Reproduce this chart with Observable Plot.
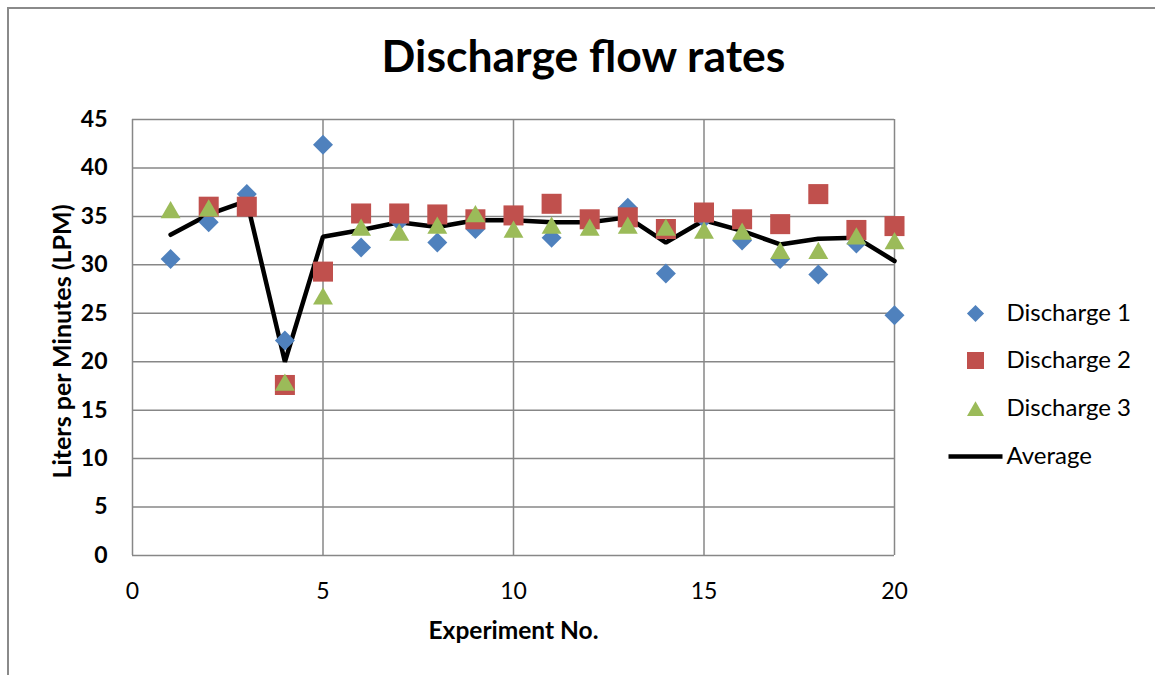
<!DOCTYPE html>
<html>
<head>
<meta charset="utf-8">
<script src="https://cdn.jsdelivr.net/npm/d3@7"></script>
<script src="https://cdn.jsdelivr.net/npm/@observablehq/plot@0.6"></script>
<style>
  body { margin: 0; background: #fff; }
  #wrap { position: relative; width: 1155px; height: 675px; overflow: hidden; background: #fff; }
  #border { position: absolute; left: 7px; top: 7px; width: 1200px; height: 800px; border: 2px solid #8a8a8a; box-sizing: border-box; }
  #chart { position: absolute; left: 0; top: 0; }
</style>
</head>
<body>
<div id="wrap"><div id="border"></div><div id="chart"></div></div>
<script>
const titleText = "Discharge flow rates";
const xLabel = "Experiment No.";
const yLabel = "Liters per Minutes (LPM)";
const seriesNames = ["Discharge 1", "Discharge 2", "Discharge 3", "Average"];
const seriesColors = ["#4F81BD", "#C0504D", "#9BBB59", "#000000"];
const xTicks = [0, 5, 10, 15, 20];
const yTicks = [0, 5, 10, 15, 20, 25, 30, 35, 40, 45];

const experiments = [1, 2, 3, 4, 5, 6, 7, 8, 9, 10, 11, 12, 13, 14, 15, 16, 17, 18, 19, 20];
const discharge1 = [30.6, 34.4, 37.3, 22.2, 42.4, 31.8, 34.5, 32.3, 33.7, 35.0, 32.8, 34.6, 35.9, 29.1, 34.8, 32.5, 30.6, 29.0, 32.2, 24.8];
const discharge2 = [null, 36.0, 36.0, 17.6, 29.3, 35.3, 35.3, 35.2, 34.7, 35.1, 36.3, 34.7, 34.9, 33.7, 35.4, 34.7, 34.2, 37.3, 33.6, 34.0];
const discharge3 = [35.7, 35.9, null, 17.9, 26.8, 33.9, 33.4, 34.1, 35.3, 33.7, 34.1, 33.9, 34.1, 33.9, 33.6, 33.5, 31.5, 31.5, 33.0, 32.5];
const average    = [33.1, 35.2, 36.6, 20.0, 32.9, 33.6, 34.4, 33.9, 34.6, 34.6, 34.4, 34.4, 34.9, 32.3, 34.6, 33.5, 32.1, 32.7, 32.8, 30.4];

const rows = experiments.map((x, i) => ({
  x, d1: discharge1[i], d2: discharge2[i], d3: discharge3[i], avg: average[i]
}));

const lineSymbol = {
  draw(context) { context.moveTo(-27, 0); context.lineTo(27, 0); }
};

const gridStyle = { stroke: "#878787", strokeOpacity: 1, strokeWidth: 1.5 };
const legendDx = 81, legendTextDx = 112;
const legendDy = [-24, 23, 71, 119];

const chart = Plot.plot({
  width: 1155,
  height: 675,
  marginLeft: 132,
  marginRight: 261,
  marginTop: 119,
  marginBottom: 120,
  style: { fontFamily: "Lato, sans-serif", background: "transparent", overflow: "visible", color: "#000" },
  x: { domain: [0, 20] },
  y: { domain: [0, 45] },
  marks: [
    Plot.gridX(xTicks, gridStyle),
    Plot.gridY(yTicks, gridStyle),
    Plot.axisX(xTicks, { tickSize: 0, tickPadding: 27, fontSize: 23, label: null }),
    Plot.axisY(yTicks, { tickSize: 0, tickPadding: 25, fontSize: 23, fontWeight: "bold", label: null }),
    Plot.text([yLabel], { frameAnchor: "left", dx: -70, dy: 4, rotate: -90, textAnchor: "middle", lineAnchor: "middle", fontSize: 25, fontWeight: "bold" }),
    Plot.text([xLabel], { frameAnchor: "bottom", dy: 76, textAnchor: "middle", fontSize: 24.5, fontWeight: "bold", lineAnchor: "middle" }),
    Plot.text([titleText], { frameAnchor: "top", dx: 70, dy: -62, textAnchor: "middle", fontSize: 44.5, fontWeight: "bold", lineAnchor: "middle" }),
    Plot.lineY(rows, { x: "x", y: "avg", stroke: seriesColors[3], strokeWidth: 4.5, strokeLinejoin: "miter" }),
    Plot.dot(rows, { x: "x", y: "d1", symbol: "diamond2", r: 9, fill: seriesColors[0], stroke: "none" }),
    Plot.dot(rows, { x: "x", y: "d2", symbol: "square", r: 11.3, fill: seriesColors[1], stroke: "none" }),
    Plot.dot(rows, { x: "x", y: "d3", symbol: "triangle", r: 7.4, dy: 3, fill: seriesColors[2], stroke: "none" }),
    // legend
    Plot.dot([0], { frameAnchor: "right", dx: legendDx, dy: legendDy[0], symbol: "diamond2", r: 7.7, fill: seriesColors[0], stroke: "none" }),
    Plot.dot([0], { frameAnchor: "right", dx: legendDx, dy: legendDy[1], symbol: "square", r: 9.6, fill: seriesColors[1], stroke: "none" }),
    Plot.dot([0], { frameAnchor: "right", dx: legendDx, dy: legendDy[2] + 2.5, symbol: "triangle", r: 6.3, fill: seriesColors[2], stroke: "none" }),
    Plot.dot([0], { frameAnchor: "right", dx: legendDx, dy: legendDy[3], symbol: lineSymbol, r: 5, fill: "none", stroke: seriesColors[3], strokeWidth: 4.5 }),
    ...seriesNames.map((name, i) =>
      Plot.text([name], { frameAnchor: "right", dx: legendTextDx, dy: legendDy[i], textAnchor: "start", lineAnchor: "middle", fontSize: 24 })
    )
  ]
});
document.getElementById("chart").append(chart);
</script>
</body>
</html>
